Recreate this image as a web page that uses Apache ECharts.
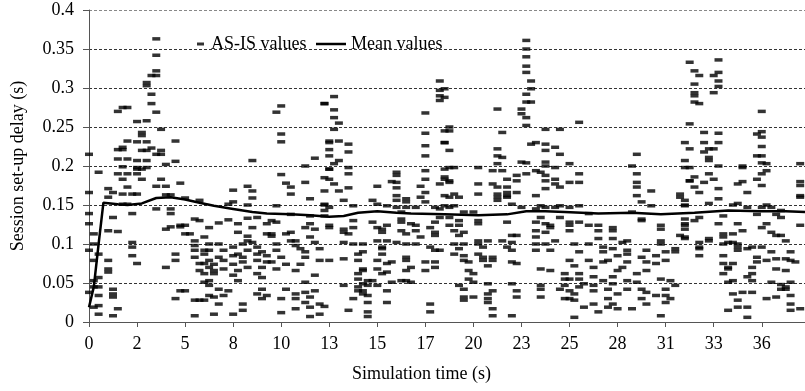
<!DOCTYPE html>
<html>
<head>
<meta charset="utf-8">
<script src="https://cdn.jsdelivr.net/npm/echarts@6/dist/echarts.min.js"></script>
<style>
  html, body { margin: 0; padding: 0; background: #fff; }
  #chart { width: 805px; height: 391px; }
</style>
</head>
<body>
<div id="chart"></div>
<script>
// x axis: samples on a category axis, a label every 10th sample
const tickLabels = ['0', '2', '5', '8', '10', '13', '15', '17', '20', '23', '25', '28', '31', '33', '36'];
const slotCount = 150;

// mean values: [sample, delay]
const meanPoints = [
  [0, 0.019], [1, 0.045], [2, 0.1], [3, 0.153], [6, 0.151], [8, 0.15], [11, 0.152], [14, 0.159],
  [17, 0.16], [20, 0.157], [23, 0.153], [26, 0.149], [30, 0.145], [34, 0.141], [37, 0.139],
  [42, 0.138], [46, 0.137], [50, 0.135], [53, 0.136], [56, 0.14], [60, 0.142], [64, 0.14],
  [67, 0.139], [74, 0.138], [81, 0.137], [87, 0.138], [91, 0.142], [95, 0.142], [99, 0.141],
  [106, 0.139], [113, 0.14], [119, 0.138], [126, 0.14], [133, 0.143], [140, 0.142], [145, 0.142], [149, 0.141]
];

// AS-IS values, rows of [delay, [samples having that delay]]
const asIsPart1 = [
  [0.363,[14]],[0.342,[14]],[0.322,[14]],[0.316,[13,14]],[0.307,[12]],[0.303,[12]],[0.292,[13]],[0.28,[13]],
  [0.275,[7,8]],[0.27,[6]],[0.269,[14]],[0.258,[12]],[0.257,[10]],[0.247,[15]],[0.243,[11]],[0.239,[11]],
  [0.232,[8,18]],[0.231,[10,12]],[0.224,[7]],[0.223,[13]],[0.221,[6,7]],[0.22,[11,12,15]],[0.215,[0,14,15]],
  [0.209,[6,8]],[0.207,[10,12]],[0.206,[18]],[0.202,[16]],[0.199,[7]],[0.198,[10,12]],[0.196,[10,11]],
  [0.192,[2]],[0.19,[6,8,10]],[0.183,[7,11,15]],[0.178,[19]],[0.174,[14,16]],[0.173,[8]],[0.171,[4]],
  [0.166,[0,5]],[0.164,[7,9,10]],[0.163,[16,17]],[0.16,[4]],[0.159,[20]],[0.156,[23]],[0.151,[7,8]],
  [0.145,[14,17]],[0.139,[0,9,17]],[0.134,[5]],[0.132,[22]],[0.13,[23]],[0.126,[0]],[0.124,[19,20]],
  [0.122,[17,19]],[0.119,[16]],[0.117,[4]],[0.116,[6]],[0.113,[1,20,21]],[0.109,[24]],[0.104,[22]],
  [0.102,[9]],[0.1,[1]],[0.098,[22]],[0.096,[9]],[0.092,[0,22,24]],[0.087,[2,18]],[0.085,[9]],[0.083,[22]],
  [0.079,[1,4,18]],[0.075,[10,23,24]],[0.07,[16]],[0.068,[4]],[0.066,[23]],[0.064,[4]],[0.062,[24]],
  [0.057,[2]],[0.053,[1]],[0.051,[24]],[0.045,[1,2]],[0.042,[5]],[0.04,[19,20]],[0.038,[0]],[0.036,[5]],
  [0.034,[2]],[0.032,[5]],[0.03,[18]],[0.028,[22,23,24]],[0.021,[2]],[0.019,[1]],[0.017,[6]],[0.01,[2]],[0.008,[5,22]]
];
const asIsPart2 = [
  [0.28,[49]],[0.277,[40]],[0.269,[39]],[0.241,[40]],[0.231,[40]],[0.23,[50]],[0.21,[47]],[0.207,[34]],
  [0.2,[45]],[0.196,[50]],[0.189,[40]],[0.185,[49]],[0.179,[45]],[0.178,[41]],[0.174,[33]],[0.173,[42]],
  [0.169,[30]],[0.168,[34,49]],[0.164,[42]],[0.159,[34]],[0.158,[46]],[0.154,[30]],[0.151,[29]],[0.15,[33,49]],
  [0.149,[39]],[0.143,[49]],[0.138,[42]],[0.136,[46]],[0.134,[35]],[0.133,[33]],[0.131,[29]],[0.13,[38]],
  [0.128,[39]],[0.127,[27]],[0.126,[31,37,46]],[0.121,[25,34,45,50]],[0.119,[47]],[0.115,[31,42]],
  [0.113,[37,38,41]],[0.11,[33,38]],[0.109,[46]],[0.104,[33,42,43]],[0.102,[34,47]],[0.1,[25,27,32,39]],
  [0.098,[43]],[0.096,[30,35]],[0.094,[44,48]],[0.092,[25,28,33,39]],[0.09,[36,45]],[0.087,[24,31,35]],
  [0.085,[30,37]],[0.083,[27,32,40,45]],[0.079,[25,28,35,48]],[0.077,[32,37,38]],[0.074,[26,30,41,44]],
  [0.07,[25,33,36]],[0.068,[28,39]],[0.066,[26,31,43]],[0.062,[26,35]],[0.06,[30,47]],[0.057,[36]],
  [0.053,[25,31]],[0.051,[45]],[0.047,[25]],[0.042,[27,36,41]],[0.04,[29,47]],[0.038,[45]],[0.036,[35,43]],
  [0.034,[25,28,37]],[0.032,[26,46]],[0.03,[36,40,43]],[0.025,[45]],[0.023,[27,32,48]],[0.019,[46]],
  [0.017,[43]],[0.015,[32]],[0.012,[40]],[0.01,[26,30,48]],[0.007,[46]]
];
const asIsPart3 = [
  [0.309,[73]],[0.297,[73]],[0.29,[73]],[0.284,[73]],[0.289,[51]],[0.28,[49]],[0.272,[51]],[0.268,[70]],
  [0.262,[51]],[0.255,[52]],[0.247,[51]],[0.245,[74]],[0.242,[70]],[0.232,[50,52]],[0.23,[74]],[0.228,[54]],
  [0.226,[70]],[0.221,[50]],[0.218,[54]],[0.213,[50,70]],[0.207,[52]],[0.203,[51]],[0.198,[54]],[0.196,[50,74]],
  [0.194,[70]],[0.192,[64]],[0.19,[54]],[0.188,[64]],[0.183,[50,70,74]],[0.181,[75]],[0.18,[63]],[0.179,[64]],
  [0.177,[51,73]],[0.174,[60,69]],[0.172,[54,64]],[0.168,[52]],[0.166,[70]],[0.162,[64,74]],[0.16,[69]],
  [0.158,[66]],[0.156,[53,59,64]],[0.154,[66,70]],[0.151,[49,60]],[0.149,[55,62]],[0.147,[50,64,66,68,72]],
  [0.145,[73]],[0.141,[65]],[0.136,[49]],[0.134,[73]],[0.132,[65]],[0.13,[55]],[0.128,[59,65,72]],[0.126,[67]],
  [0.124,[50,62,68]],[0.121,[55,60,71]],[0.119,[53,61]],[0.117,[65,68]],[0.115,[53,61,72]],[0.113,[54,66]],
  [0.111,[72]],[0.109,[69]],[0.104,[60,62]],[0.102,[53,64]],[0.1,[55,57,66,68]],[0.096,[61,71]],[0.094,[61]],
  [0.092,[72,73]],[0.09,[57]],[0.087,[56,61]],[0.083,[66]],[0.081,[53]],[0.079,[50,56,60,66]],[0.077,[63,70,72]],
  [0.075,[62]],[0.07,[67,72]],[0.068,[57,60]],[0.066,[57,66,70]],[0.064,[62]],[0.062,[56,61]],[0.055,[56]],
  [0.053,[58,59,65,66]],[0.051,[63,67]],[0.049,[57]],[0.047,[53,58,60]],[0.045,[56]],[0.04,[56,57,62]],
  [0.036,[57]],[0.034,[58]],[0.03,[55]],[0.025,[58,62]],[0.023,[71]],[0.02,[49]],[0.015,[54]],[0.013,[58,71]],[0.007,[58]]
];
const asIsPart4 = [
  [0.361,[91]],[0.35,[91]],[0.34,[91]],[0.328,[91]],[0.32,[91]],[0.309,[92]],[0.299,[74,92]],[0.292,[91]],
  [0.288,[74]],[0.282,[91,92]],[0.273,[85,90]],[0.267,[90]],[0.262,[91]],[0.252,[91]],[0.25,[75]],[0.247,[95,98]],
  [0.245,[75]],[0.243,[86]],[0.23,[74,93]],[0.228,[92,95]],[0.224,[97]],[0.222,[85]],[0.22,[75,95]],[0.215,[98]],
  [0.213,[85]],[0.211,[86]],[0.205,[90,95]],[0.204,[91]],[0.203,[85]],[0.2,[95]],[0.198,[75,76,81,97]],
  [0.194,[84,86,93]],[0.192,[94]],[0.19,[91]],[0.188,[89,95]],[0.186,[74]],[0.183,[87,97]],[0.181,[89,95]],
  [0.179,[75]],[0.177,[81,84,97]],[0.173,[85,87,98]],[0.171,[95]],[0.166,[87,89]],[0.164,[76,81,85]],
  [0.162,[87,93]],[0.16,[75,77,85,87]],[0.156,[85]],[0.151,[88]],[0.149,[74,76,94,98]],[0.147,[75,90,95,97]],
  [0.145,[93]],[0.141,[78,80]],[0.134,[75,94,98]],[0.13,[77,81]],[0.128,[87,93]],[0.126,[81,95]],
  [0.124,[75,77,96]],[0.121,[96]],[0.117,[76,93]],[0.115,[78,95]],[0.111,[77,88,89]],[0.109,[93]],
  [0.104,[81,83,86,97]],[0.102,[88]],[0.1,[76,78,81,93,95]],[0.096,[82,87]],[0.094,[77]],[0.092,[88,93,96]],
  [0.087,[76,81]],[0.085,[78]],[0.083,[82,84]],[0.079,[78,82,84]],[0.077,[79,88]],[0.075,[89]],[0.072,[83]],
  [0.068,[94]],[0.066,[79,96]],[0.062,[80]],[0.055,[79,99]],[0.051,[80]],[0.049,[83,88]],[0.047,[77,94]],
  [0.042,[78,94,98]],[0.04,[84,89]],[0.036,[83]],[0.032,[78,80,89,94]],[0.03,[83,99]],[0.028,[78]],
  [0.025,[83]],[0.017,[84]],[0.008,[84,88]]
];
const asIsPart5 = [
  [0.256,[102]],[0.215,[114]],[0.203,[100]],[0.2,[113]],[0.198,[124]],[0.19,[102,114]],[0.181,[125]],
  [0.179,[100,102,114]],[0.173,[114]],[0.168,[117]],[0.164,[123]],[0.162,[114]],[0.16,[123]],[0.156,[124]],
  [0.154,[115]],[0.149,[102,117,124]],[0.147,[100]],[0.141,[113]],[0.139,[104]],[0.132,[115,124]],[0.13,[115]],
  [0.128,[100,102]],[0.126,[124]],[0.124,[100,104,106,119]],[0.121,[109]],[0.119,[119,124]],[0.117,[100,106,109]],
  [0.111,[123]],[0.107,[106,109,124]],[0.104,[112,119]],[0.102,[111]],[0.1,[101,104,119]],[0.096,[107]],
  [0.094,[109,122]],[0.092,[112,116]],[0.09,[102,107,120,122]],[0.087,[112]],[0.085,[110,118]],[0.083,[115]],
  [0.079,[100,104,108,120]],[0.077,[107,112,116]],[0.075,[118]],[0.072,[101]],[0.07,[105,111]],[0.066,[110,116]],
  [0.062,[99,102,114]],[0.058,[105,109]],[0.055,[100,102,119]],[0.053,[107,112,121]],[0.051,[114]],
  [0.049,[103,109]],[0.047,[99,105,122]],[0.045,[102]],[0.042,[108,112,115,120]],[0.04,[100,105]],[0.038,[116]],
  [0.036,[101,110]],[0.034,[118,120]],[0.03,[100,108,115,121]],[0.028,[101]],[0.025,[120]],[0.023,[105,109,116]],
  [0.019,[103,108]],[0.017,[110,113]],[0.013,[106]],[0.008,[119]],[0.006,[101]]
];
const asIsPart6 = [
  [0.336,[131]],[0.333,[125]],[0.322,[126]],[0.32,[131]],[0.316,[127,130]],[0.309,[131]],[0.305,[126]],
  [0.302,[131]],[0.294,[126,130]],[0.29,[126]],[0.282,[126]],[0.28,[127]],[0.27,[140]],[0.254,[125]],
  [0.244,[140]],[0.243,[128]],[0.242,[131]],[0.241,[139]],[0.237,[140]],[0.23,[124,128,131]],[0.225,[140]],
  [0.222,[125,129,130]],[0.218,[128]],[0.213,[139,140]],[0.211,[129]],[0.207,[124,129]],[0.204,[140]],
  [0.203,[141,148]],[0.2,[131,136]],[0.198,[125,136]],[0.194,[141]],[0.19,[129,140]],[0.186,[126]],
  [0.183,[130,139]],[0.181,[125]],[0.18,[136,148]],[0.179,[128]],[0.177,[135]],[0.175,[140,148]],[0.173,[126]],
  [0.171,[131]],[0.166,[127,137]],[0.162,[148]],[0.16,[148]],[0.158,[131]],[0.152,[129,135]],[0.15,[124,134,141]],
  [0.147,[137,140,142]],[0.143,[144]],[0.138,[139,143]],[0.136,[132]],[0.134,[127,144]],[0.13,[126]],
  [0.126,[131,135,141]],[0.124,[124,148]],[0.121,[140]],[0.117,[136]],[0.115,[142]],[0.113,[132,134]],
  [0.111,[143,144]],[0.109,[124,132]],[0.107,[129]],[0.104,[129,145]],[0.102,[127,133,134]],[0.1,[132,135]],
  [0.096,[127,135,138,140]],[0.094,[127,137]],[0.092,[135]],[0.09,[142,146]],[0.085,[127,132]],[0.083,[139]],
  [0.081,[143,145]],[0.079,[141,146]],[0.077,[139,147]],[0.075,[132,134]],[0.07,[133,138]],[0.068,[133,143]],
  [0.066,[145]],[0.062,[132,138]],[0.058,[137]],[0.053,[134,138]],[0.051,[133,142,146]],[0.048,[144]],
  [0.045,[145]],[0.042,[144,145]],[0.038,[136,138]],[0.036,[134]],[0.034,[146]],[0.032,[143]],[0.03,[141]],
  [0.028,[135]],[0.023,[146]],[0.019,[135,137]],[0.017,[148]],[0.015,[133,146]],[0.006,[137]]
];

const font = "'Liberation Serif', 'Times New Roman', serif";

const categories = [];
for (let i = 0; i < slotCount; i++) {
  categories.push(i % 10 === 0 ? (tickLabels[i / 10] || '') : '');
}

let asIsPoints = [];
[asIsPart1, asIsPart2, asIsPart3, asIsPart4, asIsPart5, asIsPart6].forEach(function (part) {
  part.forEach(function (row) {
    row[1].forEach(function (s) { asIsPoints.push([s, row[0]]); });
  });
});

let myChart = echarts.init(document.getElementById('chart'));
myChart.setOption({
  animation: false,
  backgroundColor: '#fff',
  textStyle: { fontFamily: font },
  legend: [
    {
      data: ['AS-IS values'],
      left: 192, top: 30,
      icon: 'rect', itemWidth: 7, itemHeight: 3,
      textStyle: { fontFamily: font, fontSize: 18, color: '#000', padding: [0, 0, 0, 2] }
    },
    {
      data: ['Mean values'],
      left: 311, top: 30,
      icon: 'rect', itemWidth: 30, itemHeight: 2.5,
      textStyle: { fontFamily: font, fontSize: 18, color: '#000' }
    }
  ],
  grid: { left: 89, right: 0, top: 10, bottom: 69, containLabel: false },
  xAxis: {
    type: 'category',
    data: categories,
    boundaryGap: false,
    name: 'Simulation time (s)',
    nameLocation: 'middle',
    nameGap: 43,
    nameTextStyle: { fontFamily: font, fontSize: 18, color: '#000', padding: [0, 51, 0, 0] },
    axisLine: { lineStyle: { color: '#555', width: 1 } },
    axisTick: { interval: 9, length: 5, lineStyle: { color: '#555' } },
    axisLabel: { interval: 9, margin: 13, fontFamily: font, fontSize: 18, color: '#000' },
    splitLine: { show: false }
  },
  yAxis: {
    type: 'value',
    min: 0,
    max: 0.4,
    interval: 0.05,
    name: 'Session set-up delay (s)',
    nameLocation: 'middle',
    nameRotate: 90,
    nameGap: 62,
    nameTextStyle: { fontFamily: font, fontSize: 18, color: '#000' },
    axisLine: { show: true, lineStyle: { color: '#555', width: 1 } },
    axisTick: { show: true, length: 6, lineStyle: { color: '#555' } },
    axisLabel: { margin: 15, fontFamily: font, fontSize: 18, color: '#000' },
    splitLine: {
      show: true,
      lineStyle: {
        type: [3, 2],
        width: 1,
        color: ['#333', '#333', '#333', '#333', '#333', '#333', '#333', '#333', '#888']
      }
    }
  },
  series: [
    {
      name: 'AS-IS values',
      type: 'scatter',
      data: asIsPoints,
      symbol: 'rect',
      symbolSize: [8, 3.5],
      itemStyle: { color: '#000' },
      z: 2
    },
    {
      name: 'Mean values',
      type: 'line',
      data: meanPoints,
      showSymbol: false,
      symbol: 'none',
      lineStyle: { color: '#000', width: 2.5 },
      itemStyle: { color: '#000' },
      z: 3
    }
  ]
});
</script>
</body>
</html>
